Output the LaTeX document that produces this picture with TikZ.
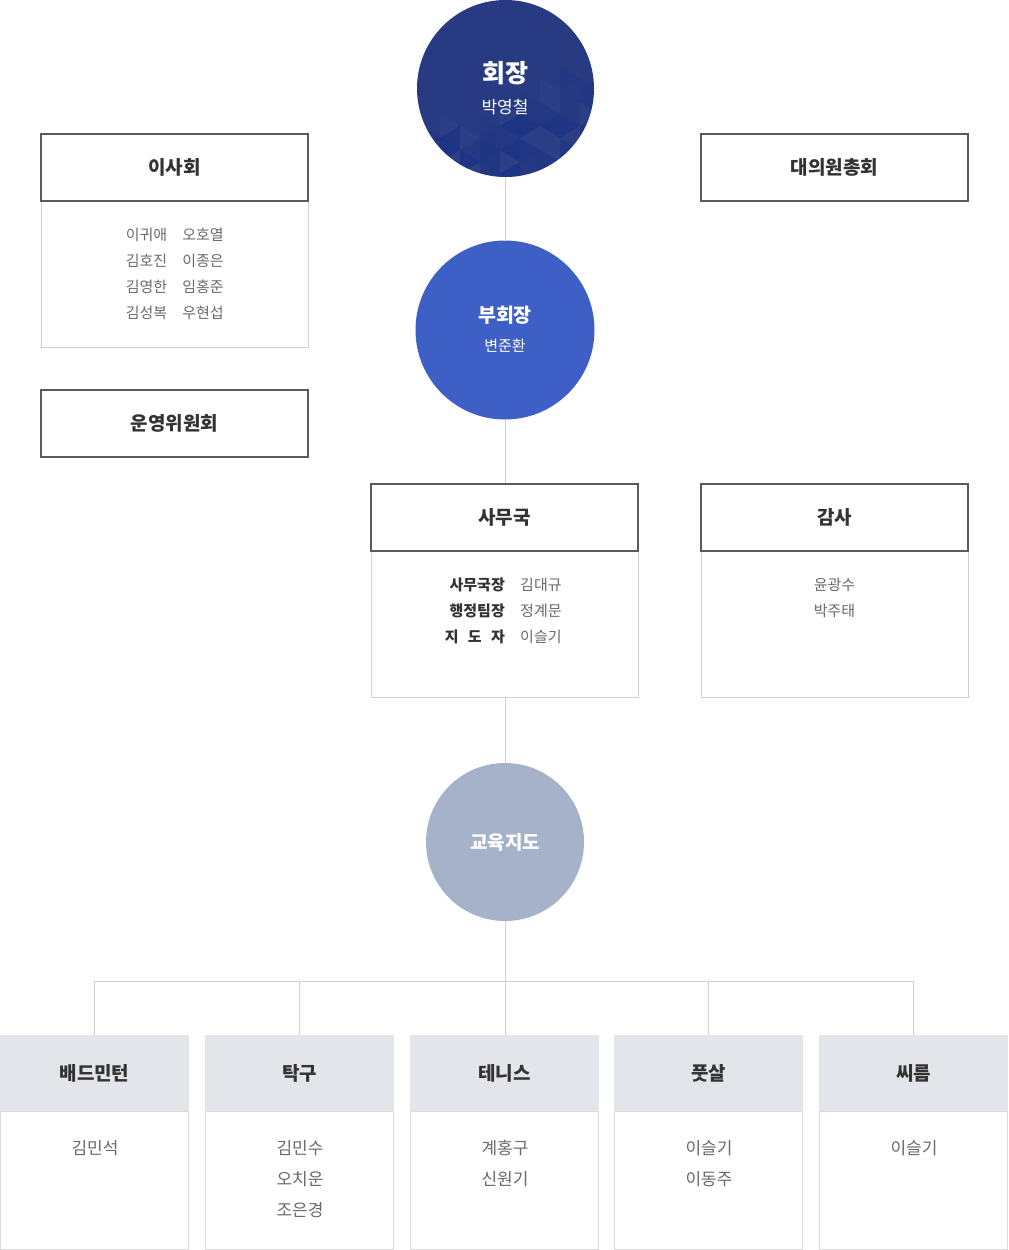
\documentclass[tikz,border=0pt]{standalone}
\usepackage{fontspec}
\setmainfont{Noto Sans CJK KR}
\definecolor{linec}{HTML}{D2D2D2}
\definecolor{hdrline}{HTML}{5A5A5A}
\definecolor{bodyline}{HTML}{D0D0D0}
\definecolor{tc}{HTML}{333333}
\definecolor{nc}{HTML}{6A6A6A}
\definecolor{navy}{HTML}{283B82}
\definecolor{navydk}{HTML}{06278C}
\definecolor{navylt}{HTML}{4A5DA6}
\definecolor{blue2}{HTML}{3E5FC6}
\definecolor{grayblue}{HTML}{A6B1CA}
\definecolor{greyhd}{HTML}{E4E5EA}
\definecolor{greybd}{HTML}{DCDCDC}
\newcommand{\hfont}{\fontsize{19}{23}\selectfont\bfseries}
\newcommand{\nfont}{\fontsize{15}{18}\selectfont}
\newcommand{\bnfont}{\fontsize{17}{20}\selectfont}
\tikzset{
  conn/.style={draw=linec, line width=1pt},
  hdrbox/.style={draw=hdrline, line width=2pt, fill=white, minimum width=267pt, minimum height=67pt, inner sep=0pt, text=tc, font=\hfont},
  bodybox/.style={draw=bodyline, line width=1pt, fill=white, minimum width=267pt, minimum height=146pt, inner sep=0pt},
  namet/.style={inner sep=0pt, text=nc, font=\nfont},
  labt/.style={inner sep=0pt, text=tc, font=\nfont\bfseries},
  circ/.style={circle, inner sep=0pt, outer sep=0pt},
  ctitle/.style={inner sep=0pt, text=white, font=\hfont},
  csub/.style={inner sep=0pt, text=white, font=\nfont},
  shd/.style={fill=greyhd, minimum width=189pt, minimum height=76pt, inner sep=0pt, text=tc, font=\hfont},
  sbd/.style={draw=greybd, line width=1pt, fill=white, minimum width=188pt, minimum height=138pt, inner sep=0pt},
  sname/.style={inner sep=0pt, text=nc, font=\bnfont},
}
\begin{document}
\begin{tikzpicture}[x=1pt,y=-1pt]
\useasboundingbox (0,0) rectangle (1009,1250);
\fill[white] (0,0) rectangle (1009,1250);

% circles
\node[circ, fill=navy, minimum size=177pt] (pres) at (505.5,88.5) {};
\begin{scope}
  \clip (505.5,88.5) circle (88.5);
  \foreach \c in {0,...,9}{
    \foreach \k in {0,...,7}{
      \pgfmathsetmacro\xa{420+20*\c}
      \pgfmathsetmacro\ya{30+24*\k+12*mod(\c,2)}
      \pgfmathsetmacro\lim{118-(\xa-430)*0.42}
      \pgfmathsetmacro\opa{0.08+0.06*mod(\c*7+\k*3,5)}
      \pgfmathsetmacro\opb{0.08+0.06*mod(\c*2+\k*5+1,5)}
      \pgfmathtruncatemacro\ma{mod(\c*5+\k*3,7)}
      \pgfmathtruncatemacro\mb{mod(\c*3+\k*4+2,7)}
      \ifdim\ya pt>\lim pt
        \ifnum\ma<2
          \fill[navylt, opacity=0.12] (\xa,\ya) -- (\xa+20,\ya+12) -- (\xa,\ya+24) -- cycle;
        \else
          \fill[navydk, opacity=\opa] (\xa,\ya) -- (\xa+20,\ya+12) -- (\xa,\ya+24) -- cycle;
        \fi
        \ifnum\mb<2
          \fill[navylt, opacity=0.12] (\xa+20,\ya+12) -- (\xa+20,\ya+36) -- (\xa,\ya+24) -- cycle;
        \else
          \fill[navydk, opacity=\opb] (\xa+20,\ya+12) -- (\xa+20,\ya+36) -- (\xa,\ya+24) -- cycle;
        \fi
      \fi
    }
  }
\end{scope}
\node[ctitle, font=\fontsize{25}{29}\selectfont\bfseries] (presT) at (505,73) {회장};
\node[csub, font=\fontsize{17}{20}\selectfont] (presN) at (505,107) {박영철};

\node[circ, fill=blue2, minimum size=179pt] (vp) at (505,330) {};
\node[ctitle, font=\fontsize{19.5}{23}\selectfont\bfseries] (vpT) at (505,315) {부회장};
\node[csub] (vpN) at (505,346) {변준환};

\node[circ, fill=grayblue, minimum size=158pt] (edu) at (505,842) {};
\node[ctitle] (eduT) at (505,842) {교육지도};

% 이사회
\node[bodybox] (boardB) at (174.5,274) {};
\node[hdrbox] (board) at (174.5,167.5) {이사회};
\node[namet] (b11) at (146.5,235) {이귀애};
\node[namet] (b12) at (203,235) {오호열};
\node[namet] (b21) at (146.5,261) {김호진};
\node[namet] (b22) at (203,261) {이종은};
\node[namet] (b31) at (146.5,287) {김영한};
\node[namet] (b32) at (203,287) {임홍준};
\node[namet] (b41) at (146.5,313) {김성복};
\node[namet] (b42) at (203,313) {우현섭};

% 운영위원회
\node[hdrbox] (ops) at (174.5,423) {운영위원회};

% 대의원총회
\node[hdrbox] (dele) at (834.5,167.5) {대의원총회};

% 사무국
\node[bodybox] (secB) at (504.5,624) {};
\node[hdrbox] (sec) at (504.5,517.5) {사무국};
\node[labt, anchor=east] (s1l) at (505,585) {사무국장};
\node[labt, anchor=east] (s2l) at (505,611) {행정팀장};
\node[labt, anchor=east] (s3l) at (505,637) {\makebox[60pt][s]{지\hfill 도\hfill 자}};
\node[namet, anchor=west] (s1n) at (520,585) {김대규};
\node[namet, anchor=west] (s2n) at (520,611) {정계문};
\node[namet, anchor=west] (s3n) at (520,637) {이슬기};

% 감사
\node[bodybox] (audB) at (834.5,624) {};
\node[hdrbox] (aud) at (834.5,517.5) {감사};
\node[namet] (a1) at (834.5,585) {윤광수};
\node[namet] (a2) at (834.5,611) {박주태};

% vertical connectors
\draw[conn] (pres.south) -- (pres.south |- vp.north);
\draw[conn] (vp.south) -- (vp.south |- sec.north);
\draw[conn] (vp.south |- secB.south) -- (edu.north);

% bottom sport boxes
\node[sbd] (sp1B) at (94.5,1180) {};
\node[shd] (sp1) at (94.5,1073) {배드민턴};
\node[sbd] (sp2B) at (299.5,1180) {};
\node[shd] (sp2) at (299.5,1073) {탁구};
\node[sbd] (sp3B) at (504.5,1180) {};
\node[shd] (sp3) at (504.5,1073) {테니스};
\node[sbd] (sp4B) at (708.5,1180) {};
\node[shd] (sp4) at (708.5,1073) {풋살};
\node[sbd] (sp5B) at (913.5,1180) {};
\node[shd] (sp5) at (913.5,1073) {씨름};

\node[sname] (n11) at (95,1148) {김민석};
\node[sname] (n21) at (300,1148) {김민수};
\node[sname] (n22) at (300,1179) {오치운};
\node[sname] (n23) at (300,1210) {조은경};
\node[sname] (n31) at (505,1148) {계홍구};
\node[sname] (n32) at (505,1179) {신원기};
\node[sname] (n41) at (709,1148) {이슬기};
\node[sname] (n42) at (709,1179) {이동주};
\node[sname] (n51) at (914,1148) {이슬기};

\coordinate (hub) at (505,981.5);
\draw[conn] (edu.south) -- (hub);
\draw[conn] (sp1.north) -- (sp1.north |- hub) -- (sp5.north |- hub) -- (sp5.north);
\draw[conn] (sp2.north) -- (sp2.north |- hub);
\draw[conn] (hub) -- (hub |- sp3.north);
\draw[conn] (sp4.north) -- (sp4.north |- hub);
\end{tikzpicture}
\end{document}
